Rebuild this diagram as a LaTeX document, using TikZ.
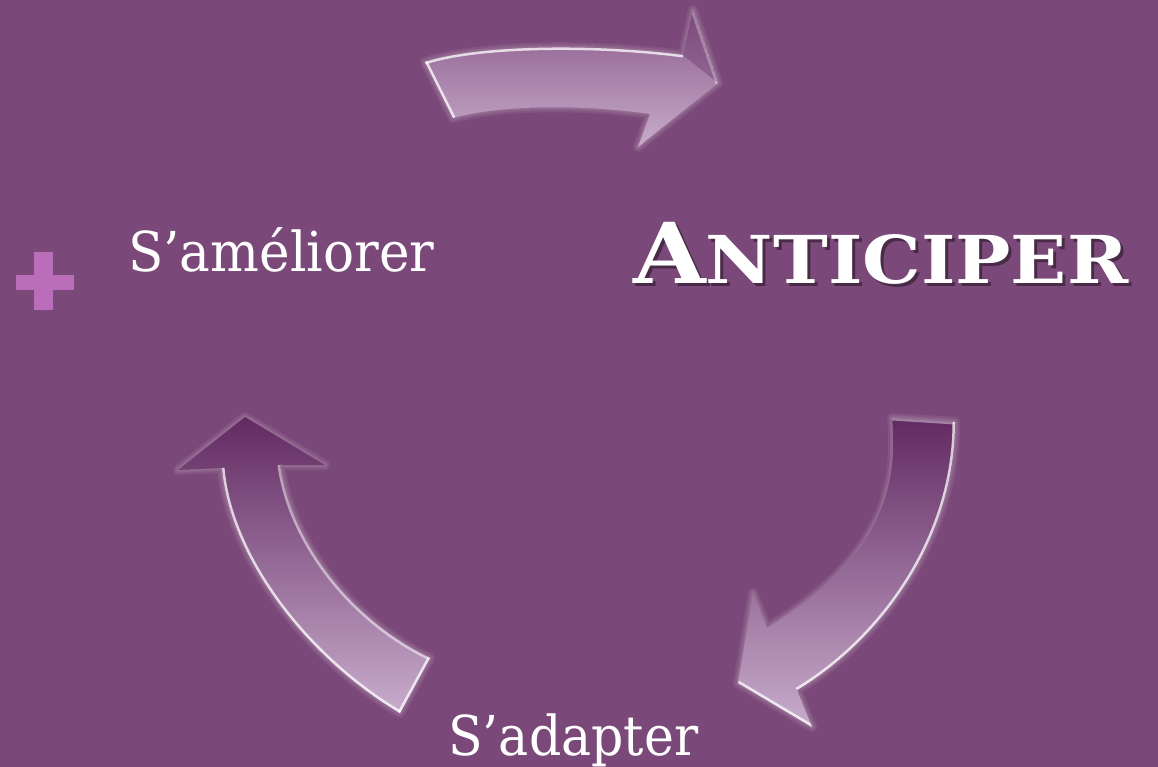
\documentclass[tikz,border=0pt]{standalone}
\usepackage{fontspec}
\setmainfont{DejaVu Serif}
\usepackage{graphicx}
\definecolor{bg}{RGB}{123,73,121}
\definecolor{plus}{RGB}{186,110,186}
\definecolor{darkp}{RGB}{98,42,98}
\definecolor{midp}{RGB}{138,90,138}
\definecolor{lightp}{RGB}{200,172,204}
\tikzset{
  glow/.style={draw=white, draw opacity=0.07, line join=round},
  hilite/.style={draw=white, line width=5pt, draw opacity=0.75, line join=round},
  lbl/.style={anchor=base west, inner sep=0pt, text=white},
}
\newcommand\shpA{(425,62) .. controls (480,44) and (600,44) .. (683,55)
  -- (693,10) -- (718,83) -- (638,147) -- (650,114)
  .. controls (580,104) and (500,105) .. (453,118) -- cycle}
\newcommand\shpB{(892,418) -- (955,422)
  .. controls (955,540) and (880,640) .. (797,690)
  -- (812,727) -- (738,683) -- (753,593) -- (767,628)
  .. controls (870,565) and (900,500) .. (892,418) -- cycle}
\newcommand\shpC{(280,465) -- (325,465) -- (245,417) -- (178,470) -- (222,468)
  .. controls (230,560) and (310,660) .. (400,713)
  -- (430,658) .. controls (350,620) and (290,540) .. (280,465) -- cycle}
\begin{document}
\begin{tikzpicture}[x=1pt,y=-1pt]
\useasboundingbox (0,0) rectangle (1158,767);
\fill[bg] (0,0) rectangle (1158,767);

% ---------- top arrow ----------
\foreach \w in {10,6,3} {\path[glow, line width=\w pt] \shpA;}
\shade[top color=midp, bottom color=lightp] \shpA;
\begin{scope}
  \clip \shpA;
  \draw[hilite] (425,62) .. controls (480,44) and (600,44) .. (683,55);
  \draw[hilite] (425,62) -- (453,118);
  \draw[hilite, draw opacity=0.5] (693,10) -- (718,83);
  \fill[darkp, opacity=0.35] (683,55) -- (693,10) -- (718,83) -- cycle;
\end{scope}

% ---------- right arrow ----------
\foreach \w in {10,6,3} {\path[glow, line width=\w pt] \shpB;}
\shade[top color=darkp, bottom color=lightp] \shpB;
\begin{scope}
  \clip \shpB;
  \draw[hilite] (955,422) .. controls (955,540) and (880,640) .. (797,690);
  \draw[hilite] (738,683) -- (812,727);
  \draw[hilite, draw opacity=0.4] (892,418) -- (955,422);
\end{scope}

% ---------- left arrow ----------
\foreach \w in {10,6,3} {\path[glow, line width=\w pt] \shpC;}
\shade[top color=darkp, bottom color=lightp] \shpC;
\begin{scope}
  \clip \shpC;
  \draw[hilite] (222,468) .. controls (230,560) and (310,660) .. (400,713);
  \draw[hilite] (400,713) -- (430,658);
  \draw[hilite, draw opacity=0.5] (430,658) .. controls (350,620) and (290,540) .. (280,465);
\end{scope}

% ---------- plus sign ----------
\fill[plus] (34,252) rectangle (53,310);
\fill[plus] (16,275) rectangle (74,290);

% ---------- labels ----------
\node[lbl] (ameliorer) at (128,272) {\resizebox{306pt}{\height}{\fontsize{55}{60}\selectfont S’améliorer}};
\node[lbl] (adapter) at (448,755) {\resizebox{250pt}{\height}{\fontsize{55}{60}\selectfont S’adapter}};
\node[lbl, text=black, text opacity=0.4] (anticipershadow) at (636,286)
  {\resizebox{495pt}{\height}{\bfseries\fontsize{84}{90}\selectfont A\fontsize{66}{70}\selectfont NTICIPER}};
\node[lbl] (anticiper) at (633,283)
  {\resizebox{495pt}{\height}{\bfseries\fontsize{84}{90}\selectfont A\fontsize{66}{70}\selectfont NTICIPER}};
\end{tikzpicture}
\end{document}
